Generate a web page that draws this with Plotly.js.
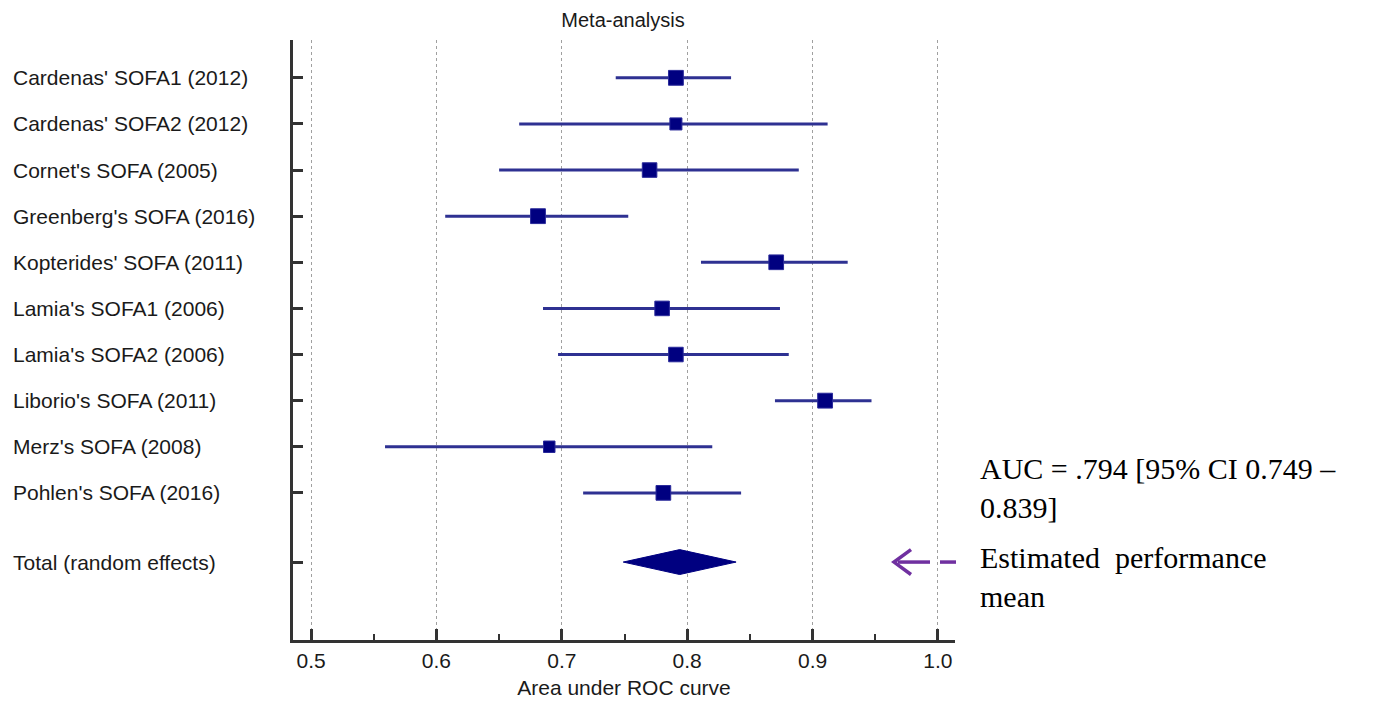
<!DOCTYPE html>
<html>
<head>
<meta charset="utf-8">
<script src="https://cdn.plot.ly/plotly-3.0.1.min.js"></script>
<style>
  html, body { margin: 0; padding: 0; background: #fff; }
  #chart { width: 1375px; height: 707px; }
</style>
</head>
<body>
<div id="chart"></div>
<script>
// ---- data ----
const studies = [
  "Cardenas' SOFA1 (2012)",
  "Cardenas' SOFA2 (2012)",
  "Cornet's SOFA (2005)",
  "Greenberg's SOFA (2016)",
  "Kopterides' SOFA (2011)",
  "Lamia's SOFA1 (2006)",
  "Lamia's SOFA2 (2006)",
  "Liborio's SOFA (2011)",
  "Merz's SOFA (2008)",
  "Pohlen's SOFA (2016)"
];
const auc   = [0.791, 0.791, 0.770, 0.681, 0.871, 0.780, 0.791, 0.910, 0.690, 0.781];
const lower = [0.743, 0.666, 0.650, 0.607, 0.811, 0.685, 0.697, 0.870, 0.559, 0.717];
const upper = [0.835, 0.912, 0.889, 0.753, 0.928, 0.874, 0.881, 0.947, 0.820, 0.843];
const weights = [10.6, 8.6, 10.4, 10.6, 10.5, 10.4, 10.4, 10.6, 8.2, 10.5];
const totalLabel = "Total (random effects)";
const totalAuc = 0.794;
const totalLower = 0.749;
const totalUpper = 0.839;
const xTicks = [0.5, 0.6, 0.7, 0.8, 0.9, 1.0];

// ---- build ----
const n = studies.length;
const yIdx = studies.map((_, i) => i);
const yTotal = n + 0.5;

const wx = [], wy = [];
for (let i = 0; i < n; i++) {
  wx.push(lower[i], upper[i], null);
  wy.push(i, i, null);
}

const whiskers = {
  type: 'scatter', mode: 'lines', x: wx, y: wy,
  line: { color: '#2e3192', width: 3 }, hoverinfo: 'skip', showlegend: false
};
const squares = {
  type: 'scatter', mode: 'markers', x: auc, y: yIdx,
  marker: { symbol: 'square', color: '#000080', opacity: 1, size: weights.map(w => w * 1.4),
            line: { color: '#2a2a9a', width: 1 } },
  showlegend: false
};
const dh = 0.27;
const diamond = {
  type: 'scatter', mode: 'lines',
  x: [totalLower, totalAuc, totalUpper, totalAuc, totalLower],
  y: [yTotal, yTotal - dh, yTotal, yTotal + dh, yTotal],
  fill: 'toself', fillcolor: '#000080', line: { color: '#000080', width: 1 },
  showlegend: false
};

const labelFont = { family: 'Liberation Sans, Arial, sans-serif', size: 21, color: '#1a1a1a' };
const labelX = -0.426;
const annotations = studies.map((s, i) => ({
  text: s, xref: 'paper', yref: 'y', x: labelX, y: i,
  xanchor: 'left', yanchor: 'middle', showarrow: false, font: labelFont
}));
annotations.push({
  text: totalLabel, xref: 'paper', yref: 'y', x: labelX, y: yTotal,
  xanchor: 'left', yanchor: 'middle', showarrow: false, font: labelFont
});
const serif = { family: 'Liberation Serif, Times New Roman, serif', size: 30, color: '#000' };
annotations.push({
  text: 'AUC = .794 [95% CI 0.749 –<br>0.839]', xref: 'paper', yref: 'paper',
  x: 1.0345, y: 1 - (488 - 40) / 600, xanchor: 'left', yanchor: 'middle',
  align: 'left', showarrow: false, font: serif
});
annotations.push({
  text: 'Estimated  performance<br>mean', xref: 'paper', yref: 'paper',
  x: 1.0345, y: 1 - (577 - 40) / 600, xanchor: 'left', yanchor: 'middle',
  align: 'left', showarrow: false, font: serif
});

const purple = '#7030a0';
const px = p => (p - 293) / 662;
const shapes = [
  { type: 'path', xref: 'paper', yref: 'y',
    path: `M ${px(911)},${yTotal - 0.27} L ${px(894)},${yTotal} L ${px(911)},${yTotal + 0.27}`,
    line: { color: purple, width: 3.5 } },
  { type: 'line', xref: 'paper', yref: 'y', x0: px(898), x1: px(930), y0: yTotal, y1: yTotal,
    line: { color: purple, width: 3.5 } },
  { type: 'line', xref: 'paper', yref: 'y', x0: px(940), x1: px(956), y0: yTotal, y1: yTotal,
    line: { color: purple, width: 3.5 } }
];

const axisFont = { family: 'Liberation Sans, Arial, sans-serif', size: 21, color: '#1a1a1a' };
const layout = {
  width: 1375, height: 707,
  margin: { l: 293, r: 420, t: 40, b: 67 },
  paper_bgcolor: '#fff', plot_bgcolor: '#fff',
  title: { text: 'Meta-analysis', font: { family: 'Liberation Sans, Arial, sans-serif', size: 20, color: '#1a1a1a' },
           x: 623 / 1375, xanchor: 'center', y: 1 - 20 / 707, yanchor: 'middle' },
  xaxis: {
    range: [0.4856, 1.0136], tickvals: xTicks, tickformat: '.1f',
    showgrid: true, gridcolor: '#a0a0a0', griddash: 'dot', gridwidth: 1,
    zeroline: false, showline: true, linecolor: '#333', linewidth: 3,
    ticks: 'inside', ticklen: 11, tickwidth: 3, tickcolor: '#333',
    minor: { dtick: 0.05, tick0: 0.5, ticks: 'inside', ticklen: 6, tickwidth: 2, tickcolor: '#333', showgrid: false },
    tickfont: axisFont,
    title: { text: 'Area under ROC curve', font: axisFont, standoff: 10 },
    fixedrange: true
  },
  yaxis: {
    range: [12.19, -0.82], tickvals: yIdx.concat([yTotal]), showticklabels: false,
    showgrid: false, zeroline: false, showline: true, linecolor: '#333', linewidth: 3,
    ticks: 'inside', ticklen: 10, tickwidth: 3, tickcolor: '#333',
    fixedrange: true
  },
  annotations: annotations,
  shapes: shapes
};

Plotly.newPlot('chart', [whiskers, diamond, squares], layout, { displayModeBar: false, staticPlot: true });
</script>
</body>
</html>
